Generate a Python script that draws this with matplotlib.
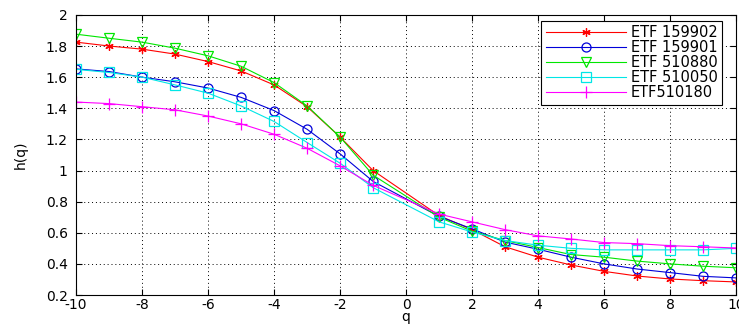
import matplotlib
matplotlib.use("Agg")
import matplotlib.pyplot as plt
import numpy as np

q = [-10, -9, -8, -7, -6, -5, -4, -3, -2, -1, 1, 2, 3, 4, 5, 6, 7, 8, 9, 10]

h_159902 = [1.825, 1.80, 1.78, 1.748, 1.70, 1.64, 1.55, 1.41, 1.215, 1.00,
            0.71, 0.62, 0.51, 0.443, 0.393, 0.352, 0.322, 0.303, 0.292, 0.284]
h_159901 = [1.653, 1.636, 1.60, 1.57, 1.53, 1.47, 1.385, 1.265, 1.107, 0.93,
            0.705, 0.625, 0.54, 0.494, 0.443, 0.40, 0.367, 0.344, 0.32, 0.31]
h_510880 = [1.876, 1.85, 1.825, 1.786, 1.737, 1.67, 1.565, 1.415, 1.215, 0.97,
            0.70, 0.61, 0.55, 0.505, 0.46, 0.443, 0.418, 0.40, 0.385, 0.375]
h_510050 = [1.65, 1.63, 1.60, 1.55, 1.497, 1.415, 1.315, 1.18, 1.047, 0.89,
            0.67, 0.605, 0.55, 0.52, 0.50, 0.49, 0.49, 0.49, 0.49, 0.50]
h_510180 = [1.44, 1.43, 1.41, 1.39, 1.35, 1.30, 1.233, 1.143, 1.03, 0.905,
            0.72, 0.67, 0.62, 0.58, 0.56, 0.537, 0.53, 0.517, 0.51, 0.502]

labels = ["ETF 159902", "ETF 159901", "ETF 510880", "ETF 510050", "ETF510180"]
xticks = [-10, -8, -6, -4, -2, 0, 2, 4, 6, 8, 10]
yticks = [0.2, 0.4, 0.6, 0.8, 1, 1.2, 1.4, 1.6, 1.8, 2]
ytick_labels = ["0.2", "0.4", "0.6", "0.8", "1", "1.2", "1.4", "1.6", "1.8", "2"]

plt.rcParams['font.family'] = ['DejaVu Sans']

fig = plt.figure(figsize=(7.39, 3.24), dpi=100)
ax = fig.add_axes([0.103, 0.0895, 0.893, 0.8645])

series = [h_159902, h_159901, h_510880, h_510050, h_510180]
styles = [
    dict(color=(1, 0, 0), marker=(6, 2, 0), ms=6),
    dict(color=(0, 0, 0.85), marker='o', ms=6.5, mfc='none'),
    dict(color=(0, 0.9, 0), marker='v', ms=7, mfc='none'),
    dict(color=(0, 0.9, 0.9), marker='s', ms=6.5, mfc='none'),
    dict(color=(1, 0, 1), marker='+', ms=8),
]
for ys, lab, st in zip(series, labels, styles):
    ax.plot(q, ys, label=lab, lw=0.8, mew=0.9, **st)

ax.set_xlim(-10, 10)
ax.set_ylim(0.2, 2)
ax.set_xticks(xticks)
ax.set_xticklabels([str(t) for t in xticks])
ax.set_yticks(yticks)
ax.set_yticklabels(ytick_labels)
ax.tick_params(direction='in', labelsize=10, length=4, top=True, right=True, pad=2)
ax.tick_params(axis='y', pad=6)
ax.grid(True, color='black', linestyle=(0, (1, 3)), linewidth=0.7)
ax.set_xlabel("q", fontsize=10, labelpad=-1)
ax.set_ylabel("h(q)", fontsize=10, labelpad=13)
for s in ax.spines.values():
    s.set_linewidth(0.8)

leg = ax.legend(loc='upper right', fontsize=10.5, handlelength=5.5, fancybox=False,
                framealpha=1, edgecolor='black', borderpad=0.3, labelspacing=0.0,
                handletextpad=0.35, borderaxespad=0, bbox_to_anchor=(0.979, 0.979))
leg.get_frame().set_linewidth(0.8)

fig.savefig("out.png", dpi=100)
